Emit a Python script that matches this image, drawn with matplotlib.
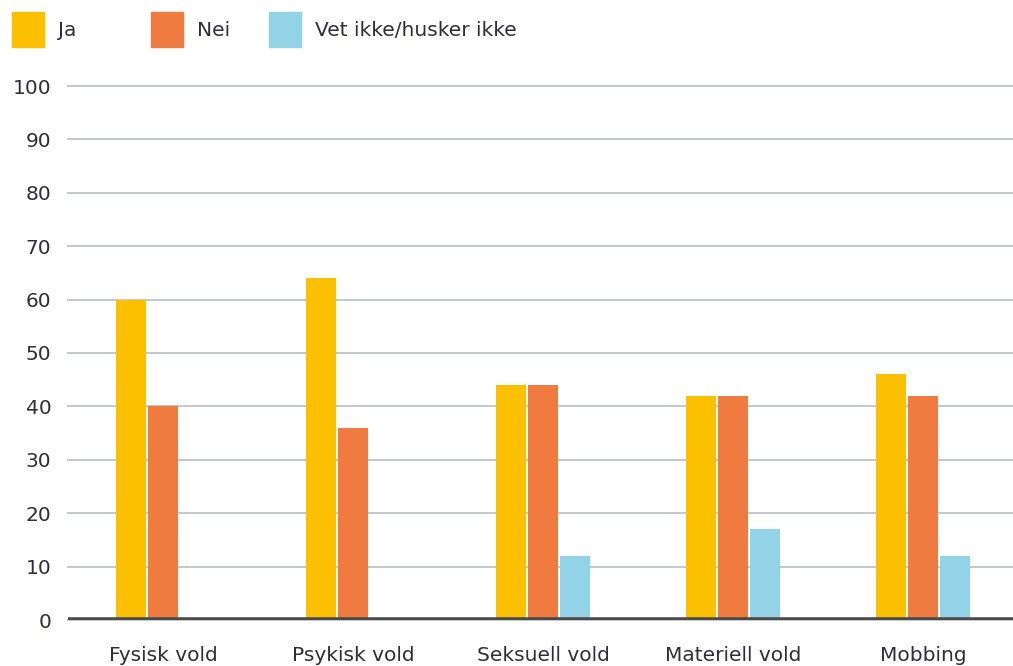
import numpy as np
import matplotlib.pyplot as plt
from matplotlib.patches import Rectangle

plt.rcParams['font.family'] = ['DejaVu Sans']

categories = ["Fysisk vold", "Psykisk vold", "Seksuell vold", "Materiell vold", "Mobbing"]
series_names = ["Ja", "Nei", "Vet ikke/husker ikke"]
ja = [60, 64, 44, 42, 46]
nei = [40, 36, 44, 42, 42]
vet_ikke = [0, 0, 12, 17, 12]
yticks = [0, 10, 20, 30, 40, 50, 60, 70, 80, 90, 100]

colors = ["#FBC000", "#EF7B40", "#93D3E8"]
text_color = "#2e2e3a"

fig = plt.figure(figsize=(10.13, 6.66), dpi=100)
ax = fig.add_axes([68 / 1013, 46 / 666, 1 - 68 / 1013, (620 - 86) / 666])

x = np.arange(len(categories))
step = 0.168
width = 0.158
for i, (vals, c) in enumerate(zip([ja, nei, vet_ikke], colors)):
    ax.bar(x + (i - 1) * step, vals, width=width, color=c, zorder=3)

ax.set_ylim(0, 100)
ax.set_xlim(-0.5, (1013 - 163) / 190)
ax.set_yticks(yticks)
ax.set_xticks(x)
ax.set_xticklabels(categories)
ax.grid(axis='y', color="#c3c8ce", linewidth=1.4, zorder=0)
for gl in ax.get_ygridlines():
    gl.set_clip_on(False)
ax.axhline(0, color="#4a4a4a", linewidth=4, zorder=4)
for s in ax.spines.values():
    s.set_visible(False)
ax.tick_params(axis='y', length=0, pad=12, labelsize=14.5, labelcolor=text_color)
ax.tick_params(axis='x', length=0, pad=19, labelsize=14.5, labelcolor=text_color)

# legend drawn at top
leg_x = [12, 151, 269]
for lx, name, c in zip(leg_x, series_names, colors):
    fig.add_artist(Rectangle((lx / 1013, 1 - 47 / 666), 32 / 1013, 35 / 666,
                             transform=fig.transFigure, color=c))
    fig.text((lx + 46) / 1013, 1 - 31 / 666, name, fontsize=14.5,
             color=text_color, va='center', ha='left')

fig.savefig("out.png", dpi=100)
